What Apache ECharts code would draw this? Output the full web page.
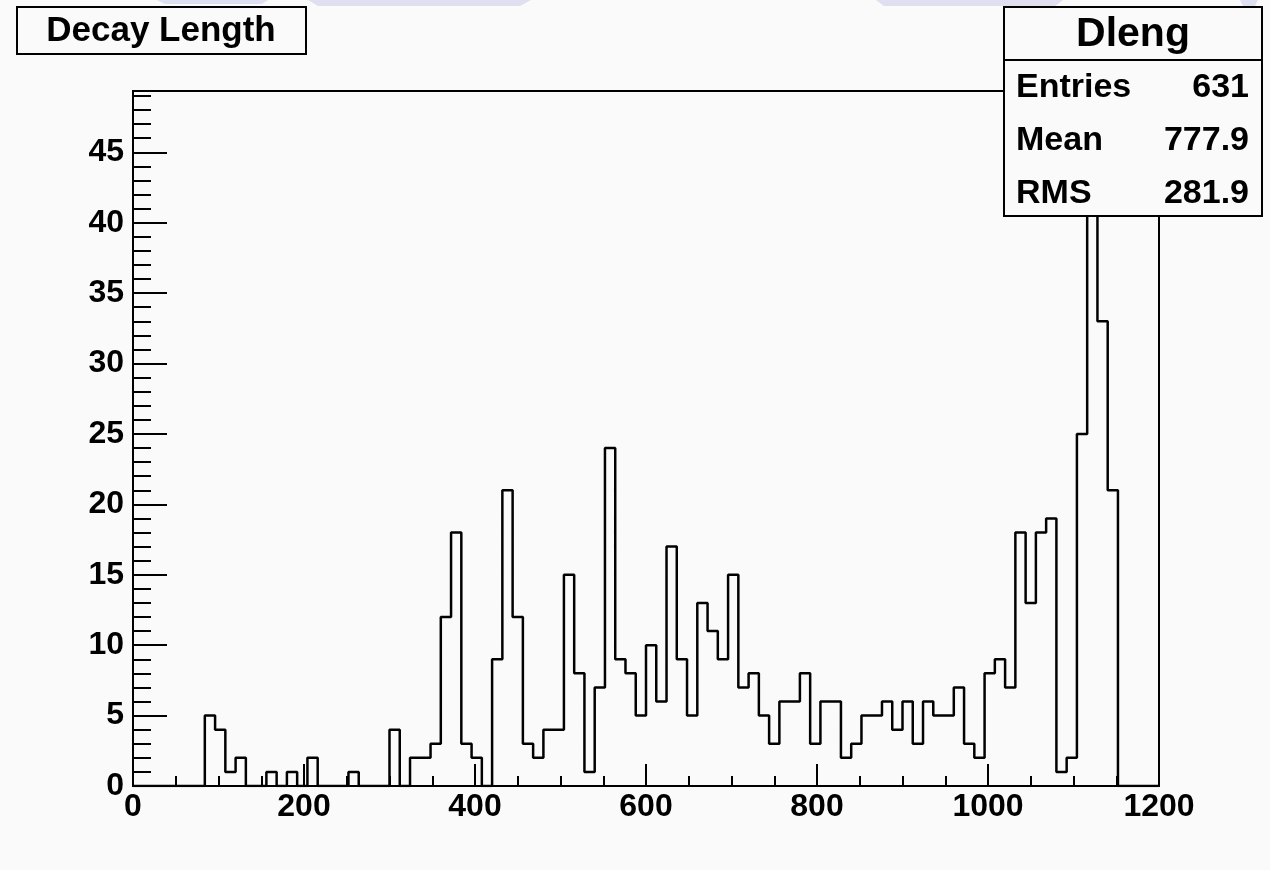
<!DOCTYPE html>
<html>
<head>
<meta charset="utf-8">
<script src="https://cdn.jsdelivr.net/npm/echarts@6/dist/echarts.min.js"></script>
<style>
  html, body { margin: 0; padding: 0; background: #fafafa; }
  #chart { width: 1270px; height: 870px; }
</style>
</head>
<body>
<div id="chart"></div>
<script>
// Histogram "Dleng": 100 bins of width 12 from 0 to 1200
const histTitle = 'Decay Length';
const histName = 'Dleng';
const binLow = 0;
const binWidth = 12;
const counts = [
  0, 0, 0, 0, 0, 0, 0, 5, 4, 1,
  2, 0, 0, 1, 0, 1, 0, 2, 0, 0,
  0, 1, 0, 0, 0, 4, 0, 2, 2, 3,
  12, 18, 3, 2, 0, 9, 21, 12, 3, 2,
  4, 4, 15, 8, 1, 7, 24, 9, 8, 5,
  10, 6, 17, 9, 5, 13, 11, 9, 15, 7,
  8, 5, 3, 6, 6, 8, 3, 6, 6, 2,
  3, 5, 5, 6, 4, 6, 3, 6, 5, 5,
  7, 3, 2, 8, 9, 7, 18, 13, 18, 19,
  1, 2, 25, 47, 33, 21, 0, 0, 0, 0
];
const statLabels = ['Entries', 'Mean', 'RMS'];
const statValues = ['631', '777.9', '281.9'];
const xRange = [0, 1200];
const xMajorStep = 200;
const yMajorStep = 5;
const yMinorStep = 1;
const yTop = 49.35; // 1.05 x tallest bin

// Outline points: left edge of every bin, then the closing edge
const outline = counts.map((c, i) => [binLow + i * binWidth, c]);
outline.push([binLow + counts.length * binWidth, 0]);

const FONT = 'Liberation Sans';
const chart = echarts.init(document.getElementById('chart'), null, { renderer: 'canvas' });

const axisText = { fontFamily: FONT, fontWeight: 'bold', fontSize: 32, color: '#000',
                   formatter: v => String(v) };
const ink = { color: '#000', width: 2 };

const option = {
  backgroundColor: '#fafafa',
  animation: false,
  grid: {
    left: 133, right: 111, top: 91, bottom: 84,
    show: true, borderColor: '#000', borderWidth: 2, backgroundColor: 'transparent'
  },
  xAxis: {
    type: 'value', min: xRange[0], max: xRange[1], interval: xMajorStep,
    axisLine: { lineStyle: ink },
    axisTick: { inside: true, length: 22, lineStyle: ink },
    minorTick: { show: true, splitNumber: 4, length: 10, lineStyle: ink },
    splitLine: { show: false },
    axisLabel: Object.assign({ margin: 5 }, axisText)
  },
  yAxis: [
    {
      type: 'value', min: 0, max: yTop, interval: yMajorStep,
      axisLine: { lineStyle: ink },
      axisTick: { inside: true, length: 34, lineStyle: ink },
      splitLine: { show: false },
      axisLabel: Object.assign({ margin: 9, showMaxLabel: false }, axisText)
    },
    {
      type: 'value', min: 0, max: yTop, interval: yMinorStep, position: 'left',
      axisLine: { show: false },
      axisTick: { inside: true, length: 18, lineStyle: ink },
      splitLine: { show: false },
      axisLabel: { show: false }
    }
  ],
  series: [{
    type: 'line',
    name: histName,
    data: outline,
    step: 'end',
    symbol: 'none',
    lineStyle: { color: '#000', width: 2.5 },
    z: 5
  }],
  graphic: [
    // faint lavender marks along the top edge
    { type: 'polygon', z: 1, shape: { points: [[157, 0], [268, 0], [262, 4], [165, 4]] }, style: { fill: '#dfdff2' } },
    { type: 'polygon', z: 1, shape: { points: [[308, 0], [531, 0], [520, 6], [318, 6]] }, style: { fill: '#dfdff2' } },
    { type: 'polygon', z: 1, shape: { points: [[876, 0], [1063, 0], [1055, 6], [884, 6]] }, style: { fill: '#dfdff2' } },
    { type: 'polygon', z: 1, shape: { points: [[1240, 0], [1258, 0], [1255, 6], [1243, 6]] }, style: { fill: '#dfdff2' } },
    // title box
    {
      type: 'rect', z: 100,
      shape: { x: 17, y: 7, width: 289, height: 47 },
      style: { fill: '#fafafa', stroke: '#000', lineWidth: 2 }
    },
    {
      type: 'text', z: 101,
      style: { x: 161, y: 31, text: histTitle, textAlign: 'center', textVerticalAlign: 'middle',
               fontFamily: FONT, fontWeight: 'bold', fontSize: 35, fill: '#000' }
    },
    // statistics box
    {
      type: 'rect', z: 100,
      shape: { x: 1004, y: 7, width: 258, height: 209 },
      style: { fill: '#fafafa', stroke: '#000', lineWidth: 2 }
    },
    {
      type: 'line', z: 101,
      shape: { x1: 1004, y1: 60, x2: 1262, y2: 60 },
      style: { stroke: '#000', lineWidth: 2 }
    },
    {
      type: 'text', z: 101,
      style: { x: 1133, y: 35, text: histName, textAlign: 'center', textVerticalAlign: 'middle',
               fontFamily: FONT, fontWeight: 'bold', fontSize: 41, fill: '#000' }
    }
  ].concat(statLabels.flatMap((lab, i) => {
    const yc = 88 + i * 53;
    return [
      { type: 'text', z: 101,
        style: { x: 1016, y: yc, text: lab, textAlign: 'left', textVerticalAlign: 'middle',
                 fontFamily: FONT, fontWeight: 'bold', fontSize: 34, fill: '#000' } },
      { type: 'text', z: 101,
        style: { x: 1249, y: yc, text: statValues[i], textAlign: 'right', textVerticalAlign: 'middle',
                 fontFamily: FONT, fontWeight: 'bold', fontSize: 34, fill: '#000' } }
    ];
  }))
};

chart.setOption(option);
</script>
</body>
</html>
